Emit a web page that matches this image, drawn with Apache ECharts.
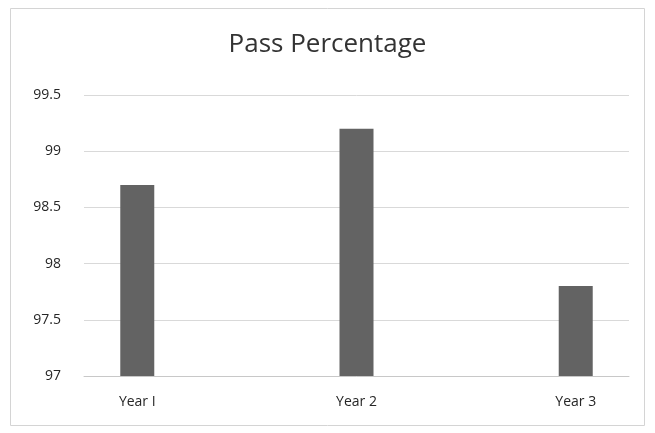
<!DOCTYPE html>
<html>
<head>
<meta charset="utf-8">
<script src="https://cdn.jsdelivr.net/npm/echarts@6/dist/echarts.min.js"></script>
<style>
  html, body { margin: 0; padding: 0; background: #fff; }
  #chart { width: 655px; height: 433px; }
</style>
</head>
<body>
<div id="chart"></div>
<script>
// data
const categories = ['Year I', 'Year 2', 'Year 3'];
const passValues = [98.7, 99.2, 97.8];
const yTicks = [97, 97.5, 98, 98.5, 99, 99.5];

const fontFamily = '"Open Sans", "Noto Sans", sans-serif';

const chart = echarts.init(document.getElementById('chart'));
chart.setOption({
  backgroundColor: '#fff',
  animation: false,
  graphic: [{
    type: 'rect',
    shape: { x: 10.5, y: 8.5, width: 634, height: 417 },
    style: { fill: 'none', stroke: '#d4d4d4', lineWidth: 1 },
    silent: true
  }],
  title: {
    text: 'Pass Percentage',
    left: 'center',
    top: 27,
    textStyle: { fontFamily: fontFamily, fontSize: 26, fontWeight: 'normal', color: '#333' }
  },
  grid: { left: 84, right: 26, top: 95, bottom: 57 },
  xAxis: {
    type: 'value',
    min: -0.243,
    max: 2.243,
    splitLine: { show: false },
    axisTick: { show: false },
    axisLine: { show: true, lineStyle: { color: '#c8c8c8' } },
    axisLabel: {
      customValues: [0, 1, 2],
      formatter: v => categories[Math.round(v)],
      fontFamily: fontFamily,
      fontSize: 14,
      color: '#262626',
      margin: 19
    }
  },
  yAxis: {
    type: 'value',
    min: yTicks[0],
    max: yTicks[yTicks.length - 1],
    interval: 0.5,
    axisLine: { show: false },
    axisTick: { show: false },
    splitLine: { lineStyle: { color: '#d9d9d9' } },
    axisLabel: { fontFamily: fontFamily, fontSize: 14, color: '#262626', margin: 23 }
  },
  series: [{
    type: 'bar',
    barWidth: 34,
    itemStyle: { color: '#636363' },
    data: passValues.map((v, i) => [i, v])
  }]
});
</script>
</body>
</html>
